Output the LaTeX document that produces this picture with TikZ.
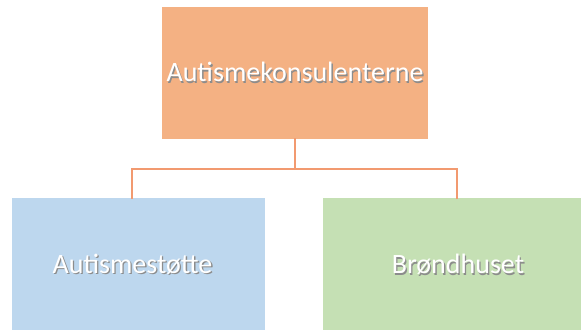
\documentclass[tikz,border=0pt]{standalone}
\usepackage{fontspec}
\setmainfont{Carlito}
\usepackage{tikz}
\usetikzlibrary{positioning}
\definecolor{boxorange}{HTML}{F4B183}
\definecolor{boxblue}{HTML}{BDD7EE}
\definecolor{boxgreen}{HTML}{C5E0B4}
\definecolor{linkorange}{HTML}{F29A70}
\newcommand{\shadowtext}[1]{\makebox[0pt][l]{\hspace{1pt}\raisebox{-1.2pt}{\color{black!45}#1}}{\color{white}#1}}
\tikzset{
    unit/.style={rectangle,inner sep=0pt,font=\fontsize{21}{25}\selectfont},
    link/.style={linkorange,line width=1.5pt}
}
\begin{document}
\begin{tikzpicture}[x=0.75pt,y=-0.75pt,line cap=rect,line join=miter]
    \def\forky{169}
    \clip (0,0) rectangle (581,329);
    % boxes
    \node[unit,fill=boxorange,minimum width=266*0.75pt,minimum height=132*0.75pt] (konsulent) at (295,73) {\shadowtext{Autismekonsulenterne}};
    \node[unit,fill=boxblue,minimum width=253*0.75pt,minimum height=134*0.75pt] (stotte) at (138.5,265) {\hspace*{-9pt}\shadowtext{Autismestøtte}};
    \node[unit,fill=boxgreen,minimum width=270*0.75pt,minimum height=134*0.75pt] (brond) at (458,265) {\shadowtext{Brøndhuset}};
    % connectors
    \coordinate (fork) at (295,\forky);
    \coordinate (stottetop) at (132,198);
    \coordinate (brondtop) at (457,198);
    \draw[link] (konsulent.south) -- (fork);
    \draw[link] (stottetop) -- (stottetop |- fork) -- (brondtop |- fork) -- (brondtop);
\end{tikzpicture}
\end{document}
